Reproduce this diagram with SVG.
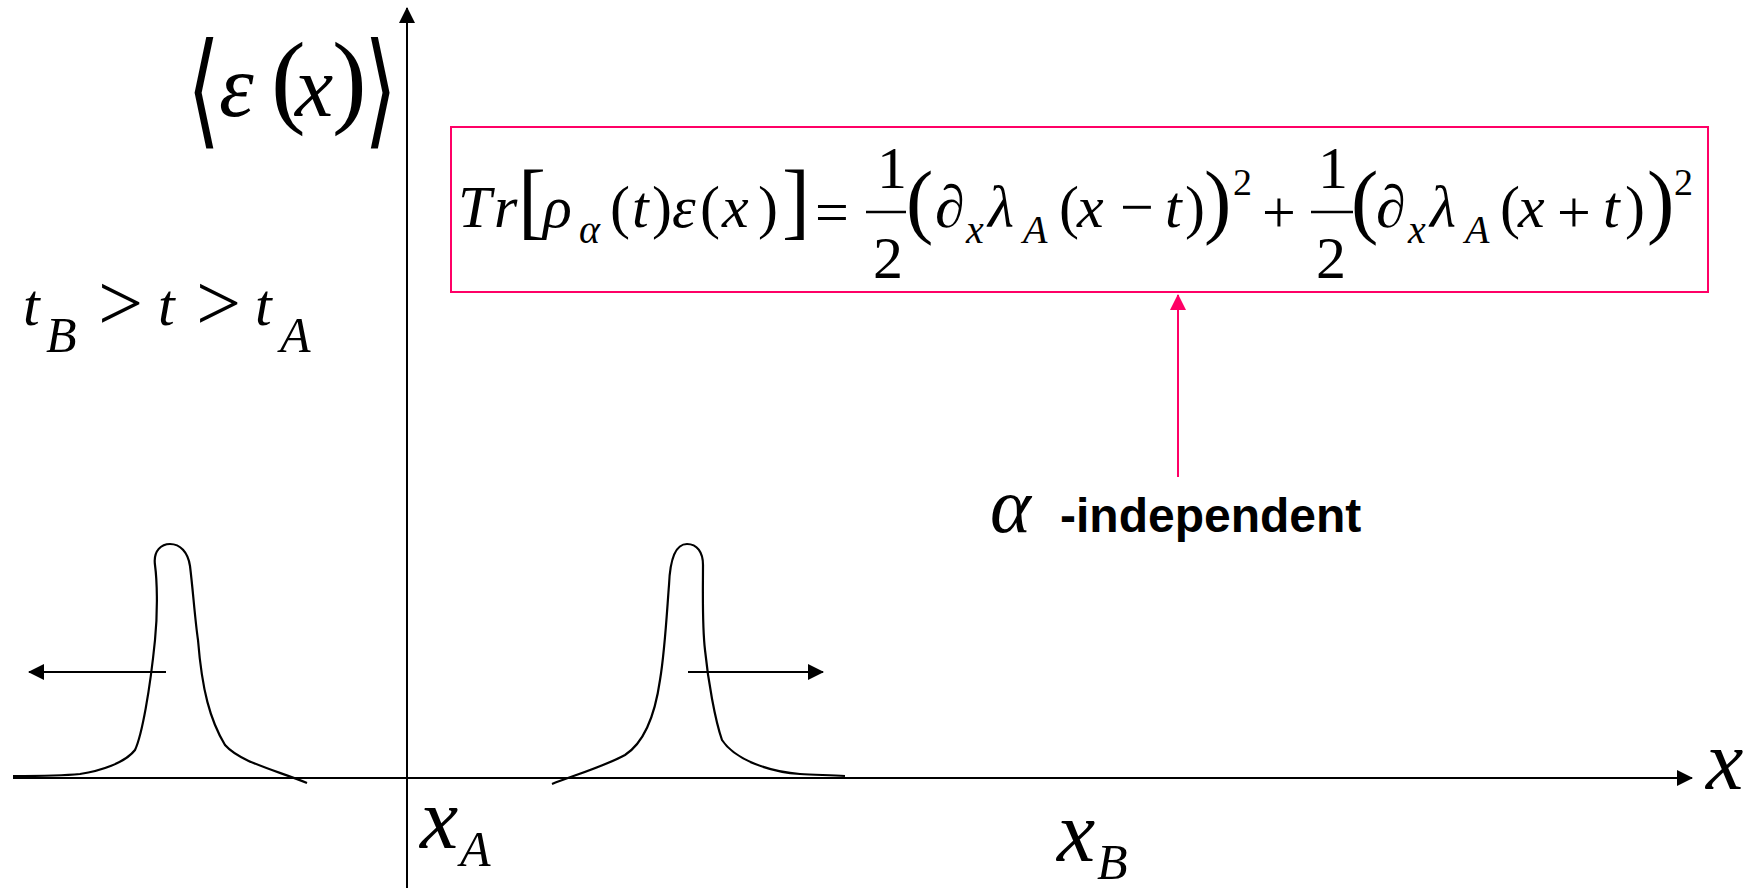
<svg xmlns="http://www.w3.org/2000/svg" width="1754" height="888" viewBox="0 0 1754 888">
<style>
.m{font-family:"Liberation Serif","Times New Roman",serif;font-style:italic;fill:#000}
.u{font-family:"Liberation Serif","Times New Roman",serif;fill:#000}
.b{font-family:"Liberation Sans",Arial,sans-serif;font-weight:bold;fill:#000}
.ax{stroke:#000;stroke-width:2;fill:none}
.cv{stroke:#000;stroke-width:2.2;fill:none}
</style>
<defs>
<marker id="ah" viewBox="0 0 16 16" refX="15" refY="8" markerWidth="16" markerHeight="16" markerUnits="userSpaceOnUse" orient="auto">
<path d="M0,0 L16,8 L0,16 Z" fill="#000"/>
</marker>
<marker id="ahp" viewBox="0 0 16 16" refX="15" refY="8" markerWidth="16" markerHeight="16" markerUnits="userSpaceOnUse" orient="auto">
<path d="M0,0 L16,8 L0,16 Z" fill="#FF0066"/>
</marker>
</defs>

<g id="connectors">
<line id="y-axis" class="ax" x1="407" y1="888" x2="407" y2="8" marker-end="url(#ah)"/>
<line id="x-axis" class="ax" x1="13" y1="778" x2="1692" y2="778" marker-end="url(#ah)"/>
<line id="arrow-left" class="ax" x1="166" y1="672" x2="29" y2="672" marker-end="url(#ah)"/>
<line id="arrow-right" class="ax" x1="688" y1="672" x2="823" y2="672" marker-end="url(#ah)"/>
<line id="arrow-pink" x1="1178" y1="477" x2="1178" y2="295" stroke="#FF0066" stroke-width="2" marker-end="url(#ahp)"/>
</g>

<g id="pulse-left">
<path class="cv" d="M13,776 C40,776 60,776 80,774 C100,771 125,763 135,750 C142,735 150,690 155,640 C158,610 157,580 155,565 C153,550 162,544 170,544 C180,544 188,552 190,566 C193,590 195,620 198,640 C202,690 210,720 225,745 C240,762 275,770 307,783"/>
</g>

<g id="pulse-right">
<path class="cv" d="M552,784 C575,775 605,766 625,755 C645,742 655,715 660,680 C665,650 667,610 669,585 C670,560 675,544 687,544 C697,544 703,552 703,565 C703,590 702,625 705,650 C708,680 715,720 722,740 C735,760 770,772 800,774 C815,775 830,775 845,776"/>
</g>

<g id="label-energy">
<text class="u" x="0" y="0" font-size="100" transform="translate(187,132) scale(0.85,1.25)" style="font-family:'DejaVu Serif',serif">⟨</text>
<text class="m" x="219" y="116" font-size="88">ε</text>
<text class="u" x="271" y="114" font-size="104">(</text>
<text class="m" x="295" y="116" font-size="86">x</text>
<text class="u" x="332" y="114" font-size="104">)</text>
<text class="u" x="0" y="0" font-size="100" transform="translate(364,132) scale(0.85,1.25)" style="font-family:'DejaVu Serif',serif">⟩</text>
</g>

<g id="label-time">
<text class="m" x="23" y="325" font-size="60">t</text>
<text class="m" x="46" y="352" font-size="50">B</text>
<text class="u" x="98" y="330" font-size="80">&gt;</text>
<text class="m" x="158" y="325" font-size="60">t</text>
<text class="u" x="196" y="330" font-size="80">&gt;</text>
<text class="m" x="255" y="325" font-size="60">t</text>
<text class="m" x="280" y="352" font-size="50">A</text>
</g>

<g id="formula-box">
<rect x="451" y="127" width="1257" height="165" fill="none" stroke="#FF0066" stroke-width="2"/>
<text class="m" x="458" y="227" font-size="60">T</text>
<text class="m" x="494" y="227" font-size="60">r</text>
<text class="u" x="518" y="229" font-size="84">[</text>
<text class="m" x="543" y="227" font-size="60">ρ</text>
<text class="m" x="579" y="243" font-size="40">α</text>
<text class="u" x="610" y="227" font-size="60">(</text>
<text class="m" x="632" y="227" font-size="60">t</text>
<text class="u" x="652" y="227" font-size="60">)</text>
<text class="m" x="672" y="227" font-size="60">ε</text>
<text class="u" x="700" y="227" font-size="60">(</text>
<text class="m" x="722" y="227" font-size="60">x</text>
<text class="u" x="758" y="227" font-size="60">)</text>
<text class="u" x="782" y="229" font-size="84">]</text>
<text class="u" x="815" y="232" font-size="60">=</text>
<text class="u" x="877" y="188" font-size="60">1</text>
<line x1="866" y1="212" x2="906" y2="212" stroke="#000" stroke-width="2.5"/>
<text class="u" x="873" y="278" font-size="60">2</text>
<text class="u" x="906" y="228" font-size="82">(</text>
<text class="m" x="935" y="227" font-size="60">∂</text>
<text class="m" x="966" y="243" font-size="40">x</text>
<text class="m" x="988" y="227" font-size="60">λ</text>
<text class="m" x="1023" y="243" font-size="40">A</text>
<text class="u" x="1059" y="227" font-size="60">(</text>
<text class="m" x="1077" y="227" font-size="60">x</text>
<text class="u" x="1120" y="227" font-size="60">−</text>
<text class="m" x="1165" y="227" font-size="60">t</text>
<text class="u" x="1185" y="227" font-size="60">)</text>
<text class="u" x="1204" y="228" font-size="82">)</text>
<text class="u" x="1233" y="195" font-size="38">2</text>
<text class="u" x="1262" y="232" font-size="60">+</text>
<text class="u" x="1318" y="188" font-size="60">1</text>
<line x1="1311" y1="212" x2="1353" y2="212" stroke="#000" stroke-width="2.5"/>
<text class="u" x="1316" y="278" font-size="60">2</text>
<text class="u" x="1351" y="228" font-size="82">(</text>
<text class="m" x="1376" y="227" font-size="60">∂</text>
<text class="m" x="1408" y="243" font-size="40">x</text>
<text class="m" x="1430" y="227" font-size="60">λ</text>
<text class="m" x="1465" y="243" font-size="40">A</text>
<text class="u" x="1500" y="227" font-size="60">(</text>
<text class="m" x="1518" y="227" font-size="60">x</text>
<text class="u" x="1557" y="232" font-size="60">+</text>
<text class="m" x="1603" y="227" font-size="60">t</text>
<text class="u" x="1625" y="227" font-size="60">)</text>
<text class="u" x="1647" y="228" font-size="82">)</text>
<text class="u" x="1674" y="195" font-size="38">2</text>
</g>

<g id="label-alpha">
<text class="m" x="990" y="532" font-size="78">α</text>
<text class="b" x="1060" y="532" font-size="48">-independent</text>
</g>

<g id="label-xA">
<text class="m" x="420" y="848" font-size="86">x</text>
<text class="m" x="460" y="866" font-size="50">A</text>
</g>

<g id="label-xB">
<text class="m" x="1057" y="861" font-size="86">x</text>
<text class="m" x="1097" y="879" font-size="50">B</text>
</g>

<g id="label-x">
<text class="m" x="1706" y="789" font-size="84">x</text>
</g>
</svg>
